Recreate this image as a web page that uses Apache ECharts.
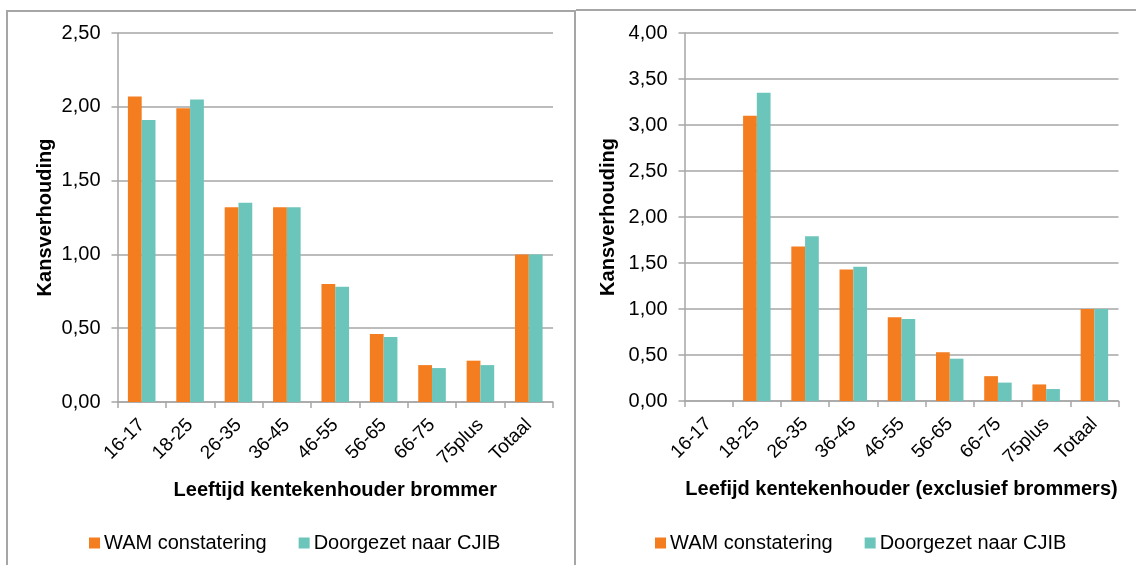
<!DOCTYPE html>
<html>
<head>
<meta charset="utf-8">
<script src="https://cdn.jsdelivr.net/npm/echarts@6/dist/echarts.min.js"></script>
<style>
  html, body { margin: 0; padding: 0; background: #fff; }
  #wrap { position: relative; width: 1136px; height: 565px; overflow: hidden; }
  .frame-left {
    position: absolute; left: 6px; top: 10px; width: 570px; height: 600px;
    border: 2px solid #a6a6a6; border-bottom: none; box-sizing: border-box;
  }
  .frame-right {
    position: absolute; left: 576px; top: 9px; right: 0; height: 2px; background: #a6a6a6;
  }
  #chart { position: absolute; left: 0; top: 0; width: 1136px; height: 565px; }
</style>
</head>
<body>
<div id="wrap">
  <div class="frame-left"></div>
  <div class="frame-right"></div>
  <div id="chart"></div>
</div>
<script>
const categories = ['16-17', '18-25', '26-35', '36-45', '46-55', '56-65', '66-75', '75plus', 'Totaal']

// links: brommers
const wamBrommer = [2.07, 1.99, 1.32, 1.32, 0.80, 0.46, 0.25, 0.28, 1.00]
const cjibBrommer = [1.91, 2.05, 1.35, 1.32, 0.78, 0.44, 0.23, 0.25, 1.00]

// rechts: exclusief brommers (geen waarde voor 16-17)
const wamOverig = [null, 3.10, 1.68, 1.43, 0.91, 0.53, 0.27, 0.18, 1.00]
const cjibOverig = [null, 3.35, 1.79, 1.46, 0.89, 0.46, 0.20, 0.13, 1.00]

const yMaxLeft = 2.5
const yMaxRight = 4
const yStep = 0.5

const seriesNames = ['WAM constatering', 'Doorgezet naar CJIB']
const xTitles = ['Leeftijd kentekenhouder brommer', 'Leefijd kentekenhouder (exclusief brommers)']
const yTitle = 'Kansverhouding'

const orange = '#f47d20'
const teal = '#6cc5ba'
const gray = '#a6a6a6'
const font = 'Arial, "Liberation Sans", sans-serif'

const fmt = (v) => v.toFixed(2).replace('.', ',')

const makeX = (idx, title) => ({
  type: 'category',
  gridIndex: idx,
  data: categories,
  axisLine: { lineStyle: { color: gray, width: 1.5 } },
  axisTick: { show: true, length: 6, lineStyle: { color: gray, width: 1.5 } },
  axisLabel: { rotate: 45, interval: 0, margin: 20, color: '#000', fontSize: 19, fontFamily: font },
  name: title,
  nameLocation: 'middle',
  nameGap: 78,
  nameTextStyle: { color: '#000', fontSize: 20, fontWeight: 'bold', fontFamily: font }
})

const makeY = (idx, max, gap) => ({
  type: 'value',
  gridIndex: idx,
  min: 0,
  max: max,
  interval: yStep,
  axisLine: { show: true, lineStyle: { color: gray, width: 1.5 } },
  axisTick: { show: true, length: 6, lineStyle: { color: gray, width: 1.5 } },
  splitLine: { lineStyle: { color: gray, width: 1.5 } },
  axisLabel: { formatter: fmt, margin: 17, color: '#000', fontSize: 20, fontFamily: font },
  name: yTitle,
  nameLocation: 'middle',
  nameGap: gap,
  nameTextStyle: { color: '#000', fontSize: 20, fontWeight: 'bold', fontFamily: font }
})

const makeBar = (name, data, idx, color) => ({
  name: name,
  type: 'bar',
  xAxisIndex: idx,
  yAxisIndex: idx,
  data: data,
  barGap: '0%',
  barCategoryGap: '43%',
  itemStyle: { color: color },
  emphasis: { disabled: true }
})

const makeLegend = (left) => ({
  left: left,
  top: 533,
  padding: 0,
  itemWidth: 11,
  itemHeight: 11,
  itemGap: 32,
  icon: 'rect',
  textStyle: { color: '#000', fontSize: 20, fontFamily: font, padding: [0, 0, 0, -1] },
  data: seriesNames
})

const chart = echarts.init(document.getElementById('chart'), null, { renderer: 'canvas' })

const option = {
  animation: false,
  backgroundColor: 'transparent',
  grid: [
    { left: 117.5, top: 33, width: 435.5, height: 369 },
    { left: 684.5, top: 33, width: 434, height: 368 }
  ],
  xAxis: [makeX(0, xTitles[0]), makeX(1, xTitles[1])],
  yAxis: [makeY(0, yMaxLeft, 62), makeY(1, yMaxRight, 66)],
  legend: [makeLegend(89), makeLegend(655)],
  series: [
    makeBar(seriesNames[0], wamBrommer, 0, orange),
    makeBar(seriesNames[1], cjibBrommer, 0, teal),
    makeBar(seriesNames[0], wamOverig, 1, orange),
    makeBar(seriesNames[1], cjibOverig, 1, teal)
  ]
}

chart.setOption(option)
</script>
</body>
</html>
